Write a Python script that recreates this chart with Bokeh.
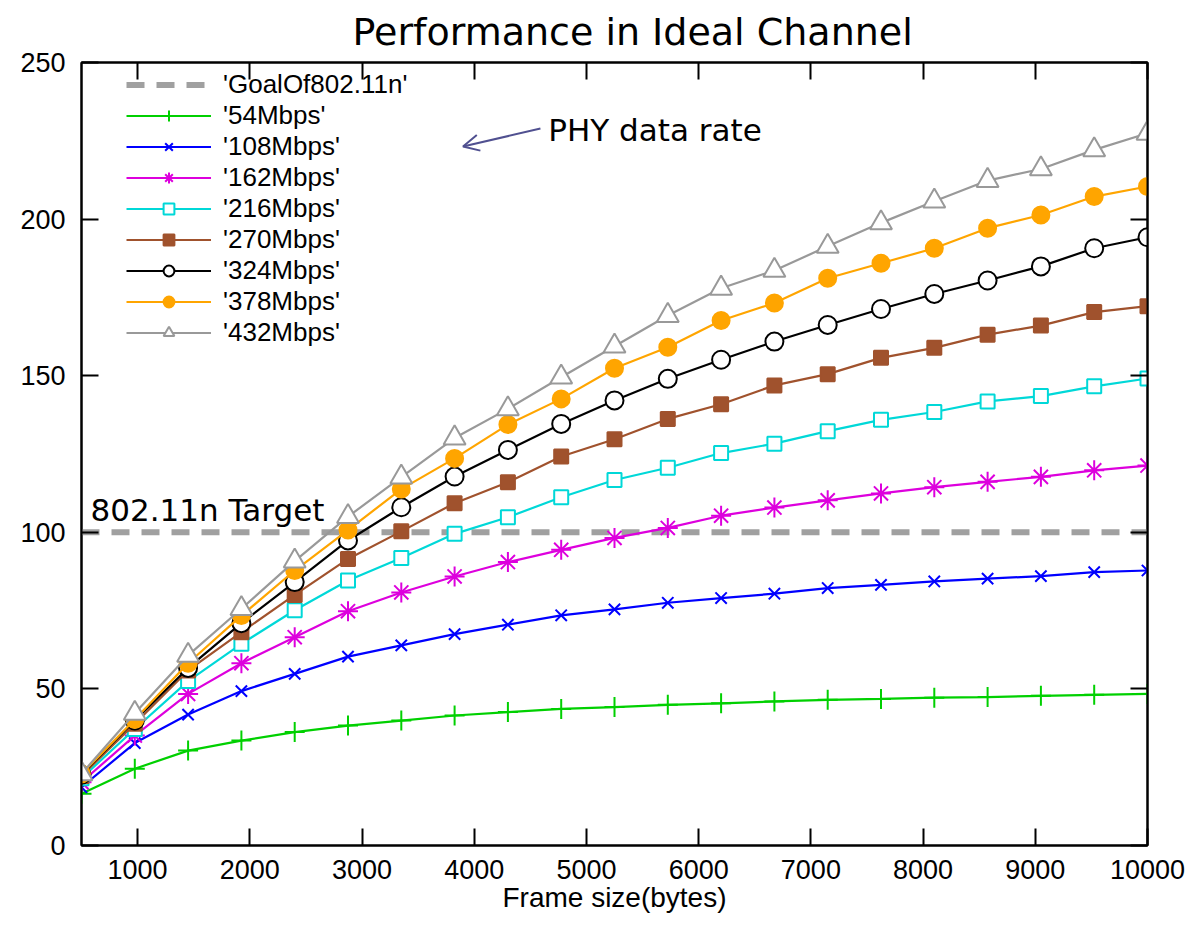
from bokeh.plotting import figure
from bokeh.models import LinearAxis, Label, Arrow, OpenHead, Legend, FixedTicker
from bokeh.embed import file_html
from bokeh.resources import INLINE

frame_size = [500, 975, 1450, 1925, 2400, 2875, 3350, 3825, 4300, 4775, 5250,
              5725, 6200, 6675, 7150, 7625, 8100, 8575, 9050, 9525, 10000]

r54 = [16.5, 24.5, 30.3, 33.5, 36.2, 38.3, 39.9, 41.5, 42.6, 43.6, 44.2,
       44.9, 45.4, 46.0, 46.5, 46.8, 47.2, 47.4, 47.8, 48.1, 48.4]
r108 = [18.6, 32.7, 41.8, 49.3, 54.8, 60.3, 63.9, 67.5, 70.5, 73.5, 75.4,
        77.5, 79.0, 80.4, 82.2, 83.2, 84.3, 85.2, 86.0, 87.3, 87.8]
r162 = [20.2, 35.1, 48.4, 58.2, 66.5, 74.8, 80.8, 85.9, 90.5, 94.4, 98.2,
        101.4, 105.3, 107.9, 110.2, 112.4, 114.4, 116.1, 117.7, 119.8, 121.3]
r216 = [21.5, 37.2, 52.5, 64.4, 75.1, 84.6, 91.8, 99.5, 104.8, 111.2, 116.7,
        120.6, 125.3, 128.3, 132.3, 135.9, 138.4, 141.8, 143.5, 146.6, 149.1]
r270 = [22.2, 38.9, 55.9, 68.1, 80.0, 91.5, 100.3, 109.3, 116.0, 124.2, 129.7,
        136.2, 140.9, 146.9, 150.5, 155.7, 158.9, 163.1, 166.0, 170.3, 172.2]
r324 = [22.6, 39.9, 56.7, 71.0, 84.1, 97.4, 108.0, 117.8, 126.3, 134.6, 142.1,
        149.0, 155.1, 160.9, 166.2, 171.3, 176.1, 180.4, 184.9, 190.7, 194.2]
r378 = [22.8, 40.2, 58.2, 73.4, 87.8, 100.7, 113.8, 123.6, 134.4, 142.6, 152.4,
        159.1, 167.6, 173.2, 181.1, 185.9, 190.7, 197.1, 201.3, 207.2, 210.4]
r432 = [22.9, 42.2, 60.7, 75.6, 90.8, 105.0, 117.6, 130.1, 139.4, 149.5, 159.4,
        169.2, 177.9, 183.6, 191.3, 198.8, 205.7, 212.3, 216.0, 222.1, 227.4]

goal_x = [500, 10000]
goal_y = [100, 100]

series_labels = ["'54Mbps'", "'108Mbps'", "'162Mbps'", "'216Mbps'", "'270Mbps'",
                 "'324Mbps'", "'378Mbps'", "'432Mbps'"]
series_values = [r54, r108, r162, r216, r270, r324, r378, r432]
goal_label = "'GoalOf802.11n'"

x_ticks = [1000, 2000, 3000, 4000, 5000, 6000, 7000, 8000, 9000, 10000]
y_ticks = [0, 50, 100, 150, 200, 250]

title_text = "Performance in Ideal Channel"
x_label = "Frame size(bytes)"
target_text = "802.11n Target"
phy_text = "PHY data rate"

styles = [
    dict(color="#00d000", marker="cross", size=20, fill="#00d000"),
    dict(color="#0000ff", marker="x", size=16, fill="#0000ff"),
    dict(color="#dd00dd", marker="asterisk", size=20, fill="#dd00dd"),
    dict(color="#00d8d8", marker="square", size=14, fill="white"),
    dict(color="#a0522d", marker="square", size=14, fill="#a0522d"),
    dict(color="#000000", marker="circle", size=18, fill="white"),
    dict(color="#ffa500", marker="circle", size=17, fill="#ffa500"),
    dict(color="#999999", marker="triangle", size=22, fill="white"),
]

W, H = 1188, 916
p = figure(width=W, height=H, x_range=(500, 10000), y_range=(0, 250),
           output_backend="svg", toolbar_location=None,
           min_border_left=81, min_border_right=41, min_border_top=62,
           min_border_bottom=71)
p.xgrid.visible = False
p.ygrid.visible = False
p.outline_line_color = "black"
p.outline_line_width = 2
p.background_fill_color = "white"

FONT = "Liberation Sans"
ANNO_FONT = "DejaVu Sans"

def style_axis(ax, ticks, show_labels):
    ax.ticker = FixedTicker(ticks=ticks)
    ax.major_tick_in = 17
    ax.major_tick_out = 0
    ax.minor_tick_line_color = None
    ax.axis_line_width = 2
    ax.axis_line_color = "black"
    ax.major_tick_line_width = 2
    ax.major_tick_line_color = "black"
    ax.major_label_text_font = FONT
    ax.major_label_text_color = "black"
    if show_labels:
        ax.major_label_text_font_size = "27px"
    else:
        ax.major_label_overrides = {t: "" for t in ticks}
        ax.major_label_text_font_size = "1px"
        ax.major_label_standoff = 0

style_axis(p.xaxis[0], x_ticks, True)
style_axis(p.yaxis[0], y_ticks, True)
p.xaxis[0].major_label_standoff = 14
p.yaxis[0].major_label_standoff = 16
p.xaxis[0].axis_label = x_label
p.xaxis[0].axis_label_text_font = FONT
p.xaxis[0].axis_label_text_font_style = "normal"
p.xaxis[0].axis_label_text_font_size = "28px"
p.xaxis[0].axis_label_text_color = "black"
p.xaxis[0].axis_label_standoff = 0

top_ax = LinearAxis()
right_ax = LinearAxis()
style_axis(top_ax, x_ticks, False)
style_axis(right_ax, y_ticks, False)
p.add_layout(top_ax, "above")
p.add_layout(right_ax, "right")

p.title.text = title_text
p.title.text_font = ANNO_FONT
p.title.text_font_style = "normal"
p.title.text_font_size = "38px"
p.title.text_color = "black"
p.title.align = "left"
p.title.vertical_align = "top"
p.title.offset = 271
p.title.standoff = 14

legend_items = []
goal_r = p.line(goal_x, goal_y, line_color="#a0a0a0", line_width=6,
                line_dash="18 12")
legend_items.append((goal_label, [goal_r]))

for lab, vals, st in zip(series_labels, series_values, styles):
    lr = p.line(frame_size, vals, line_color=st["color"], line_width=2.2)
    sr = p.scatter(frame_size, vals, marker=st["marker"], size=st["size"],
                   line_color=st["color"], fill_color=st["fill"], line_width=2)
    legend_items.append((lab, [lr, sr]))

legend = Legend(items=legend_items, location=(45, 497))
legend.background_fill_alpha = 0
legend.border_line_alpha = 0
legend.padding = 0
legend.margin = 0
legend.spacing = 0
legend.glyph_width = 85
legend.glyph_height = 27
legend.label_height = 27
legend.label_standoff = 12
legend.label_text_font = FONT
legend.label_text_font_size = "26px"
legend.label_text_color = "black"
p.add_layout(legend, "center")

p.add_layout(Label(x=580, y=107.2, text=target_text, text_font=ANNO_FONT,
                   text_font_size="31px", text_color="black",
                   text_baseline="alphabetic"))
p.add_layout(Label(x=4660, y=228.4, text=phy_text, text_font=ANNO_FONT,
                   text_font_size="31px", text_color="black",
                   text_baseline="alphabetic"))
p.add_layout(Arrow(end=OpenHead(size=16, line_color="#505090", line_width=2),
                   x_start=4590, y_start=228.9, x_end=3900, y_end=223.2,
                   line_color="#505090", line_width=2))

open("out.html", "w").write(file_html(p, INLINE))
